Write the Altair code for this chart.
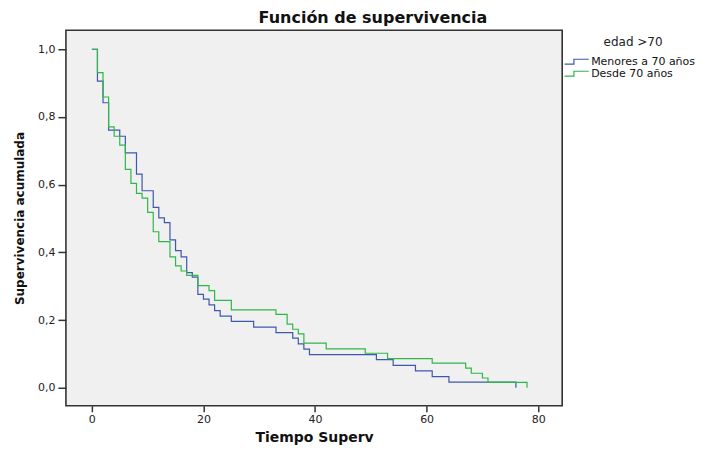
import altair as alt
import pandas as pd

# Kaplan-Meier step curves (time in months, cumulative survival)
menores_t = [0, 1, 2, 3, 5, 6, 8, 9, 11, 12, 13, 14, 15, 16, 17, 18, 19, 20, 21, 22, 23, 25, 29, 33, 36, 37, 38, 39, 51, 54, 58, 61, 64, 76]
menores_s = [1.0, 0.906, 0.842, 0.761, 0.743, 0.694, 0.631, 0.582, 0.533, 0.502, 0.488, 0.437, 0.405, 0.387, 0.340, 0.327, 0.276, 0.262, 0.245, 0.228, 0.212, 0.196, 0.179, 0.163, 0.147, 0.130, 0.114, 0.098, 0.083, 0.066, 0.050, 0.033, 0.017, 0.0]

desde_t = [0, 1, 2, 3, 4, 5, 6, 7, 8, 9, 10, 11, 12, 14, 15, 16, 17, 19, 21, 22, 25, 33, 35, 36, 37, 38, 42, 49, 53, 61, 67, 68, 70, 71, 78]
desde_s = [1.0, 0.931, 0.859, 0.771, 0.743, 0.717, 0.645, 0.604, 0.574, 0.560, 0.518, 0.461, 0.432, 0.387, 0.360, 0.345, 0.332, 0.302, 0.287, 0.258, 0.230, 0.217, 0.188, 0.173, 0.159, 0.132, 0.115, 0.102, 0.086, 0.073, 0.058, 0.043, 0.029, 0.016, 0.0]

groups = ["Menores a 70 años", "Desde 70 años"]
colors = ["#3E58AC", "#2EB848"]
x_ticks = [0, 20, 40, 60, 80]
y_ticks = [0.0, 0.2, 0.4, 0.6, 0.8, 1.0]

df = pd.concat([
    pd.DataFrame({"t": menores_t, "s": menores_s, "g": groups[0], "o": 0}),
    pd.DataFrame({"t": desde_t, "s": desde_s, "g": groups[1], "o": 1}),
])

FONT = "DejaVu Sans"

chart = alt.Chart(df).mark_line(interpolate="step-after", strokeWidth=1.2).encode(
    x=alt.X("t:Q", scale=alt.Scale(domain=[-4.65, 84.3], nice=False, zero=False),
            axis=alt.Axis(values=x_ticks, title="Tiempo Superv", grid=False, domain=False,
                          tickSize=6, tickColor="#333", tickWidth=1.5, labelFontSize=11, labelColor="#222",
                          labelFont=FONT, titleFont=FONT, titleFontSize=14, titleFontWeight="bold",
                          titleColor="#111", titlePadding=6, labelPadding=2)),
    y=alt.Y("s:Q", scale=alt.Scale(domain=[-0.053, 1.056], nice=False, zero=False),
            axis=alt.Axis(values=y_ticks, title="Supervivencia acumulada", grid=False, domain=False,
                          tickSize=8, tickColor="#333", tickWidth=1.5, labelFontSize=11, labelColor="#222",
                          labelExpr="replace(format(datum.value, '.1f'), '.', ',')",
                          labelFont=FONT, titleFont=FONT, titleFontSize=12, titleFontWeight="bold",
                          titleColor="#111", titlePadding=11, labelPadding=3)),
    color=alt.Color("g:N", scale=alt.Scale(domain=groups, range=colors),
                    legend=alt.Legend(title="edad >70", orient="none", legendX=505, legendY=7,
                                      titleFontWeight="normal", titleFontSize=12, titleFont=FONT,
                                      titleColor="#222", titleAnchor="middle", titlePadding=6,
                                      labelFont=FONT, labelFontSize=11, labelColor="#111",
                                      symbolType="M-2.2,0.45H-0.5V-0.45H2.2", symbolSize=121,
                                      symbolStrokeWidth=1.2, symbolFillColor="transparent",
                                      rowPadding=0, labelOffset=8, padding=0)),
    order="t:Q",
    detail="o:N",
).properties(
    width=497, height=376,
    title=alt.TitleParams("Función de supervivencia", font=FONT, fontSize=16, fontWeight="bold",
                          color="#111", anchor="middle", dx=59, offset=4),
    autosize=alt.AutoSizeParams(type="none"),
    padding={"left": 58, "top": 22, "right": 136, "bottom": 44},
    background="white",
).configure_view(
    fill="#F0F0F0", stroke="#333333", strokeWidth=1.6
)

chart.save("out.html", embed_options={"renderer": "svg", "actions": False})
